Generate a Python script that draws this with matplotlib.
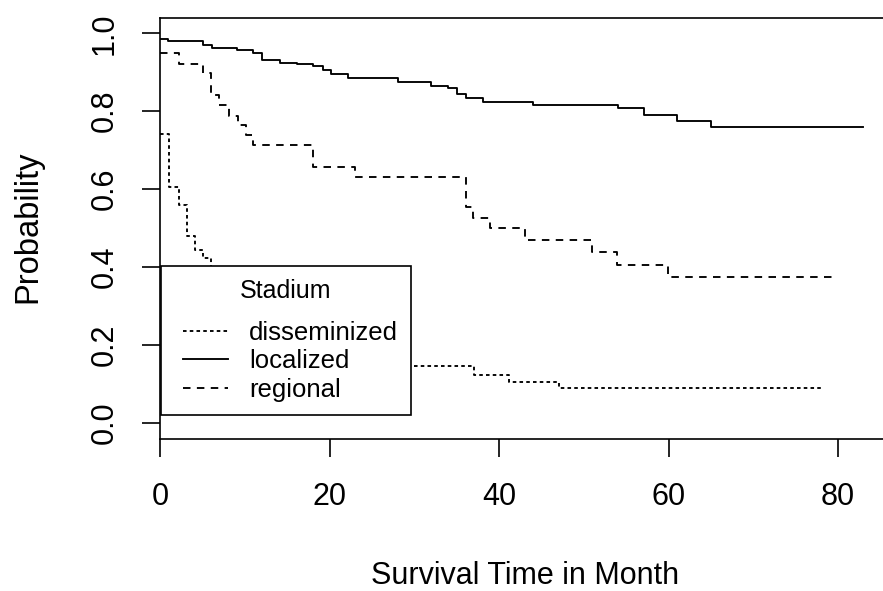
import matplotlib
matplotlib.use("Agg")

import matplotlib.pyplot as plt
from matplotlib.lines import Line2D
from matplotlib.legend_handler import HandlerLine2D

# ============================================================
# DATA (Kaplan-Meier estimates per stadium)
# ============================================================

LOCALIZED_TIME = [0, 0.93, 5.07, 6.05, 9.1, 10.97, 11.96, 14.1, 16.1, 18.0,
                  19.2, 20.1, 22.1, 28.0, 32.0, 34.0, 35.05, 36.1, 38.05,
                  43.95, 54.0, 57.1, 60.96, 65.0, 83.0]
LOCALIZED_SURV = [0.985, 0.979, 0.970, 0.963, 0.957, 0.949, 0.931, 0.925,
                  0.921, 0.916, 0.906, 0.895, 0.884, 0.876, 0.865, 0.859,
                  0.843, 0.833, 0.823, 0.817, 0.807, 0.791, 0.776, 0.760,
                  0.760]

REGIONAL_TIME = [0, 2.2, 5.07, 5.97, 6.96, 8.14, 9.2, 10.1, 10.97, 17.98,
                 22.97, 36.08, 36.9, 38.9, 43.05, 50.9, 53.9, 59.96, 79.3]
REGIONAL_SURV = [0.949, 0.921, 0.897, 0.842, 0.816, 0.788, 0.764, 0.740,
                 0.713, 0.657, 0.630, 0.555, 0.525, 0.499, 0.469, 0.438,
                 0.405, 0.375, 0.375]

DISSEM_TIME = [0, 0.98, 2.16, 3.1, 4.08, 5.07, 5.97, 7.0, 9.0, 11.0, 13.5,
               16.5, 20.0, 24.0, 28.0, 37.0, 41.1, 47.1, 77.96]
DISSEM_SURV = [0.741, 0.604, 0.559, 0.479, 0.443, 0.422, 0.395, 0.36, 0.32,
               0.28, 0.24, 0.21, 0.18, 0.16, 0.146, 0.122, 0.104, 0.090,
               0.090]

LEGEND_LABELS = ["disseminized", "localized", "regional"]

X_TICKS = [0, 20, 40, 60, 80]
Y_TICKS = [0.0, 0.2, 0.4, 0.6, 0.8, 1.0]

# ============================================================
# STYLE
# ============================================================

plt.rcParams["font.family"] = ["Liberation Sans", "DejaVu Sans"]

W, H = 883, 591
LW = 1.35
DOTTED = (1.9, 1.7)
DASHED = (4.0, 3.4)

# ============================================================
# FIGURE
# ============================================================

fig = plt.figure(figsize=(W / 100, H / 100), dpi=100)

# plot region runs a little past the right edge (cropped R device)
ax = fig.add_axes([160.4 / W, (H - 439) / H, 729.3 / W, 421 / H])

ax.step(DISSEM_TIME, DISSEM_SURV, where="post", color="black",
        linewidth=LW, linestyle=(0, DOTTED))
ax.step(LOCALIZED_TIME, LOCALIZED_SURV, where="post", color="black",
        linewidth=LW, linestyle="-")
ax.step(REGIONAL_TIME, REGIONAL_SURV, where="post", color="black",
        linewidth=LW, linestyle=(0, DASHED))

ax.set_xlim(0, 86.1)
ax.set_ylim(-0.0419, 1.0393)

ax.set_xticks(X_TICKS)
ax.set_xticklabels([str(v) for v in X_TICKS])
ax.set_yticks(Y_TICKS)
ax.set_yticklabels([f"{v:.1f}" for v in Y_TICKS])

ax.tick_params(axis="both", direction="out", length=13, width=1.2,
               labelsize=22, colors="black")
ax.tick_params(axis="x", pad=18)
ax.tick_params(axis="y", pad=16, labelrotation=90)

for lab in ax.get_yticklabels():
    lab.set_verticalalignment("center")

for side in ["left", "top", "bottom"]:
    ax.spines[side].set_linewidth(1.2)
ax.spines["right"].set_visible(False)

# ============================================================
# AXIS LABELS
# ============================================================

fig.text(525 / W, 1 - 583.5 / H, "Survival Time in Month",
         ha="center", va="baseline", fontsize=22)

fig.text(36 / W, 1 - 226.7 / H, "Probability", rotation=90,
         rotation_mode="anchor", ha="center", va="baseline", fontsize=23.5)

# ============================================================
# LEGEND
# ============================================================

handles = [
    Line2D([], [], color="black", linewidth=LW, linestyle=(0, DOTTED)),
    Line2D([], [], color="black", linewidth=LW, linestyle="-"),
    Line2D([], [], color="black", linewidth=LW, linestyle=(0, DASHED)),
]

# extra room left of the sample lines, like R's legend box
shifted = HandlerLine2D(xpad=0.35)

leg = ax.legend(
    handles,
    LEGEND_LABELS,
    title="Stadium\n",
    loc="upper left",
    bbox_to_anchor=(161 / W, 1 - 266 / H),
    bbox_transform=fig.transFigure,
    borderaxespad=0,
    borderpad=0.5,
    fontsize=18.5,
    title_fontsize=18,
    handlelength=2.1,
    handletextpad=0.82,
    labelspacing=0.17,
    fancybox=False,
    framealpha=1,
    edgecolor="black",
    handler_map={h: shifted for h in handles},
)
leg.get_frame().set_linewidth(1.2)
leg.get_title().set_linespacing(0.46)

fig.savefig("out.png", dpi=100)
